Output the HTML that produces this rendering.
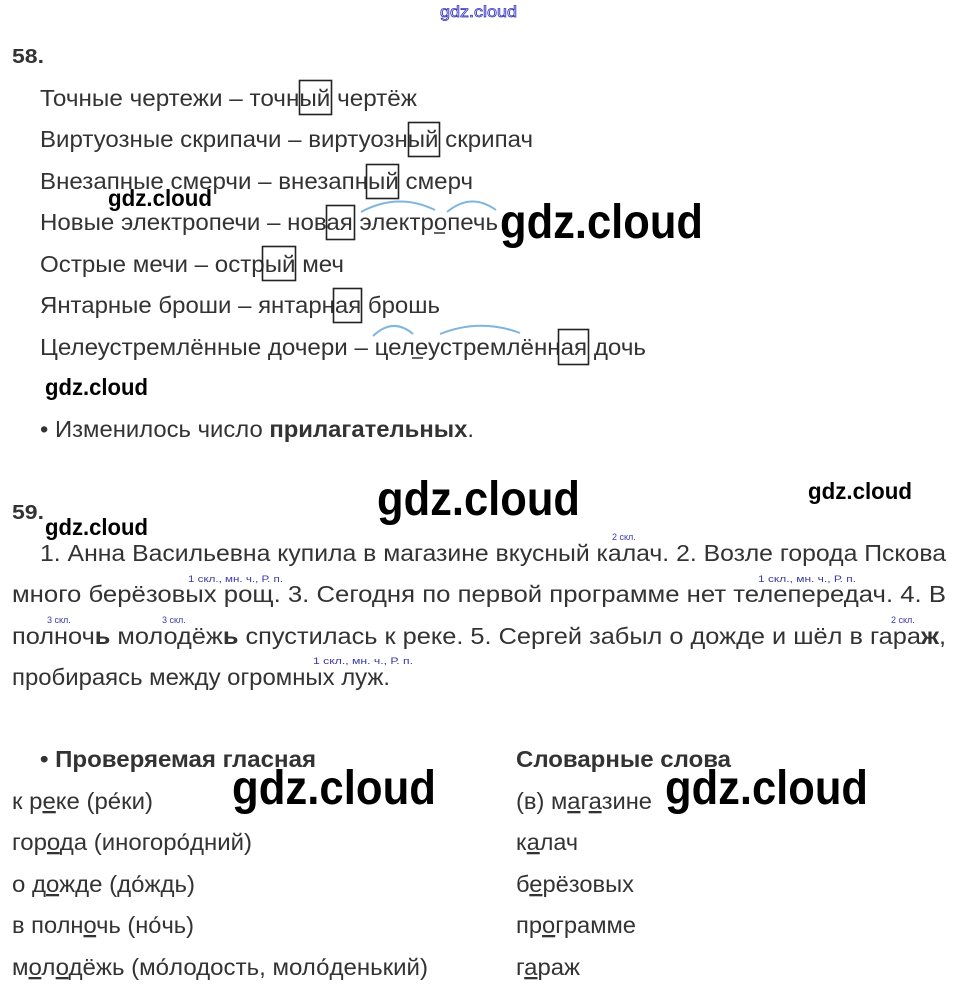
<!DOCTYPE html>
<html><head><meta charset="utf-8"><style>
html,body{margin:0;padding:0;background:#fff;}
svg{display:block;}
text{font-family:"Liberation Sans",Arial,sans-serif;fill:#333;}
.t{font-size:23px;}
.b{font-weight:bold;}
.g{font-family:"Liberation Sans",sans-serif;fill:#000;font-weight:bold;}
.a{font-size:9px;fill:#3a3aa8;}
.u{text-decoration:underline;}
</style></head><body>
<svg width="957" height="991" viewBox="0 0 957 991" xmlns="http://www.w3.org/2000/svg">
<text x="440" y="17" style="font-size:16px;fill:#fff;stroke:#3333bb;stroke-width:0.8" textLength="77" lengthAdjust="spacingAndGlyphs">gdz.cloud</text>
<text x="12" y="63" class="b" style="font-size:20px" textLength="32" lengthAdjust="spacingAndGlyphs">58.</text>

<text x="40" y="106" class="t" textLength="377" lengthAdjust="spacingAndGlyphs">Точные чертежи – точный чертёж</text>
<rect x="299.5" y="80.5" width="32" height="34" fill="none" stroke="#222" stroke-width="1.6"/>
<text x="40" y="147" class="t" textLength="493" lengthAdjust="spacingAndGlyphs">Виртуозные скрипачи – виртуозный скрипач</text>
<rect x="408.5" y="122.5" width="31" height="34" fill="none" stroke="#222" stroke-width="1.6"/>
<text x="40" y="189" class="t" textLength="433" lengthAdjust="spacingAndGlyphs">Внезапные смерчи – внезапный смерч</text>
<rect x="366.5" y="164.5" width="32" height="34" fill="none" stroke="#222" stroke-width="1.6"/>
<text x="40" y="230" class="t" textLength="458" lengthAdjust="spacingAndGlyphs">Новые электропечи – новая электропечь</text>
<rect x="326.5" y="205.5" width="28" height="34" fill="none" stroke="#222" stroke-width="1.6"/>
<path d="M361 212 Q398 192 435 210" fill="none" stroke="#7fb6e0" stroke-width="2"/>
<path d="M447 212 Q471 192 496 210" fill="none" stroke="#7fb6e0" stroke-width="2"/>
<line x1="434" y1="233" x2="445" y2="233" stroke="#333" stroke-width="1.5"/>
<text x="40" y="272" class="t" textLength="304" lengthAdjust="spacingAndGlyphs">Острые мечи – острый меч</text>
<rect x="262.5" y="246.5" width="33" height="34" fill="none" stroke="#222" stroke-width="1.6"/>
<text x="40" y="313" class="t" textLength="400" lengthAdjust="spacingAndGlyphs">Янтарные броши – янтарная брошь</text>
<rect x="333.5" y="288.5" width="28" height="34" fill="none" stroke="#222" stroke-width="1.6"/>
<text x="40" y="355" class="t" textLength="606" lengthAdjust="spacingAndGlyphs">Целеустремлённые дочери – целеустремлённая дочь</text>
<rect x="558.5" y="329.5" width="30" height="35" fill="none" stroke="#222" stroke-width="1.6"/>
<path d="M373 336 Q393 317 413 334" fill="none" stroke="#7fb6e0" stroke-width="2"/>
<path d="M440 334 Q480 318 520 333" fill="none" stroke="#7fb6e0" stroke-width="2"/>
<line x1="412" y1="358" x2="423" y2="358" stroke="#333" stroke-width="1.5"/>

<text x="108" y="206" class="g" style="font-size:23px" textLength="104" lengthAdjust="spacingAndGlyphs">gdz.cloud</text>
<text x="500" y="238" class="g" style="font-size:48px" textLength="203" lengthAdjust="spacingAndGlyphs">gdz.cloud</text>
<text x="45" y="395" class="g" style="font-size:23px" textLength="103" lengthAdjust="spacingAndGlyphs">gdz.cloud</text>

<text x="40" y="437" class="t" textLength="434" lengthAdjust="spacingAndGlyphs">• Изменилось число <tspan class="b">прилагательных</tspan>.</text>

<text x="12" y="519" class="b" style="font-size:20px" textLength="32" lengthAdjust="spacingAndGlyphs">59.</text>
<text x="377" y="515" class="g" style="font-size:48px" textLength="203" lengthAdjust="spacingAndGlyphs">gdz.cloud</text>
<text x="808" y="499" class="g" style="font-size:23px" textLength="104" lengthAdjust="spacingAndGlyphs">gdz.cloud</text>
<text x="45" y="535" class="g" style="font-size:23px" textLength="103" lengthAdjust="spacingAndGlyphs">gdz.cloud</text>

<text x="612" y="540" class="a">2 скл.</text>
<text x="40" y="561" class="t" textLength="906" lengthAdjust="spacingAndGlyphs">1. Анна Васильевна купила в магазине вкусный калач. 2. Возле города Пскова</text>
<text x="188" y="582" class="a" textLength="95" lengthAdjust="spacingAndGlyphs">1 скл., мн. ч., Р. п.</text>
<text x="758" y="582" class="a" textLength="98" lengthAdjust="spacingAndGlyphs">1 скл., мн. ч., Р. п.</text>
<text x="12" y="602" class="t" textLength="934" lengthAdjust="spacingAndGlyphs">много берёзовых рощ. 3. Сегодня по первой программе нет телепередач. 4. В</text>
<text x="47" y="623" class="a">3 скл.</text>
<text x="162" y="623" class="a">3 скл.</text>
<text x="891" y="623" class="a">2 скл.</text>
<text x="12" y="644" class="t" textLength="934" lengthAdjust="spacingAndGlyphs">полноч<tspan class="b">ь</tspan> молодёж<tspan class="b">ь</tspan> спустилась к реке. 5. Сергей забыл о дожде и шёл в гара<tspan class="b">ж</tspan>,</text>
<text x="313" y="664" class="a" textLength="100" lengthAdjust="spacingAndGlyphs">1 скл., мн. ч., Р. п.</text>
<text x="12" y="685" class="t" textLength="378" lengthAdjust="spacingAndGlyphs">пробираясь между огромных луж.</text>

<text x="40" y="767" class="t b" textLength="276" lengthAdjust="spacingAndGlyphs">• Проверяемая гласная</text>
<text x="516" y="767" class="t b" textLength="215" lengthAdjust="spacingAndGlyphs">Словарные слова</text>
<text x="232" y="804" class="g" style="font-size:48px" textLength="204" lengthAdjust="spacingAndGlyphs">gdz.cloud</text>
<text x="665" y="804" class="g" style="font-size:48px" textLength="203" lengthAdjust="spacingAndGlyphs">gdz.cloud</text>

<text x="12" y="809" class="t" textLength="141" lengthAdjust="spacingAndGlyphs">к р<tspan class="u">е</tspan>ке (ре́ки)</text>
<text x="12" y="850" class="t" textLength="240" lengthAdjust="spacingAndGlyphs">гор<tspan class="u">о</tspan>да (иногоро́дний)</text>
<text x="12" y="892" class="t" textLength="183" lengthAdjust="spacingAndGlyphs">о д<tspan class="u">о</tspan>жде (до́ждь)</text>
<text x="12" y="933" class="t" textLength="182" lengthAdjust="spacingAndGlyphs">в полн<tspan class="u">о</tspan>чь (но́чь)</text>
<text x="12" y="975" class="t" textLength="416" lengthAdjust="spacingAndGlyphs">м<tspan class="u">о</tspan>л<tspan class="u">о</tspan>дёжь (мо́лодость, моло́денький)</text>

<text x="516" y="809" class="t" textLength="136" lengthAdjust="spacingAndGlyphs">(в) м<tspan class="u">а</tspan>г<tspan class="u">а</tspan>зине</text>
<text x="516" y="850" class="t" textLength="62" lengthAdjust="spacingAndGlyphs">к<tspan class="u">а</tspan>лач</text>
<text x="516" y="892" class="t" textLength="118" lengthAdjust="spacingAndGlyphs">б<tspan class="u">е</tspan>рёзовых</text>
<text x="516" y="933" class="t" textLength="120" lengthAdjust="spacingAndGlyphs">пр<tspan class="u">о</tspan>грамме</text>
<text x="516" y="975" class="t" textLength="64" lengthAdjust="spacingAndGlyphs">г<tspan class="u">а</tspan>раж</text>
</svg>
</body></html>
